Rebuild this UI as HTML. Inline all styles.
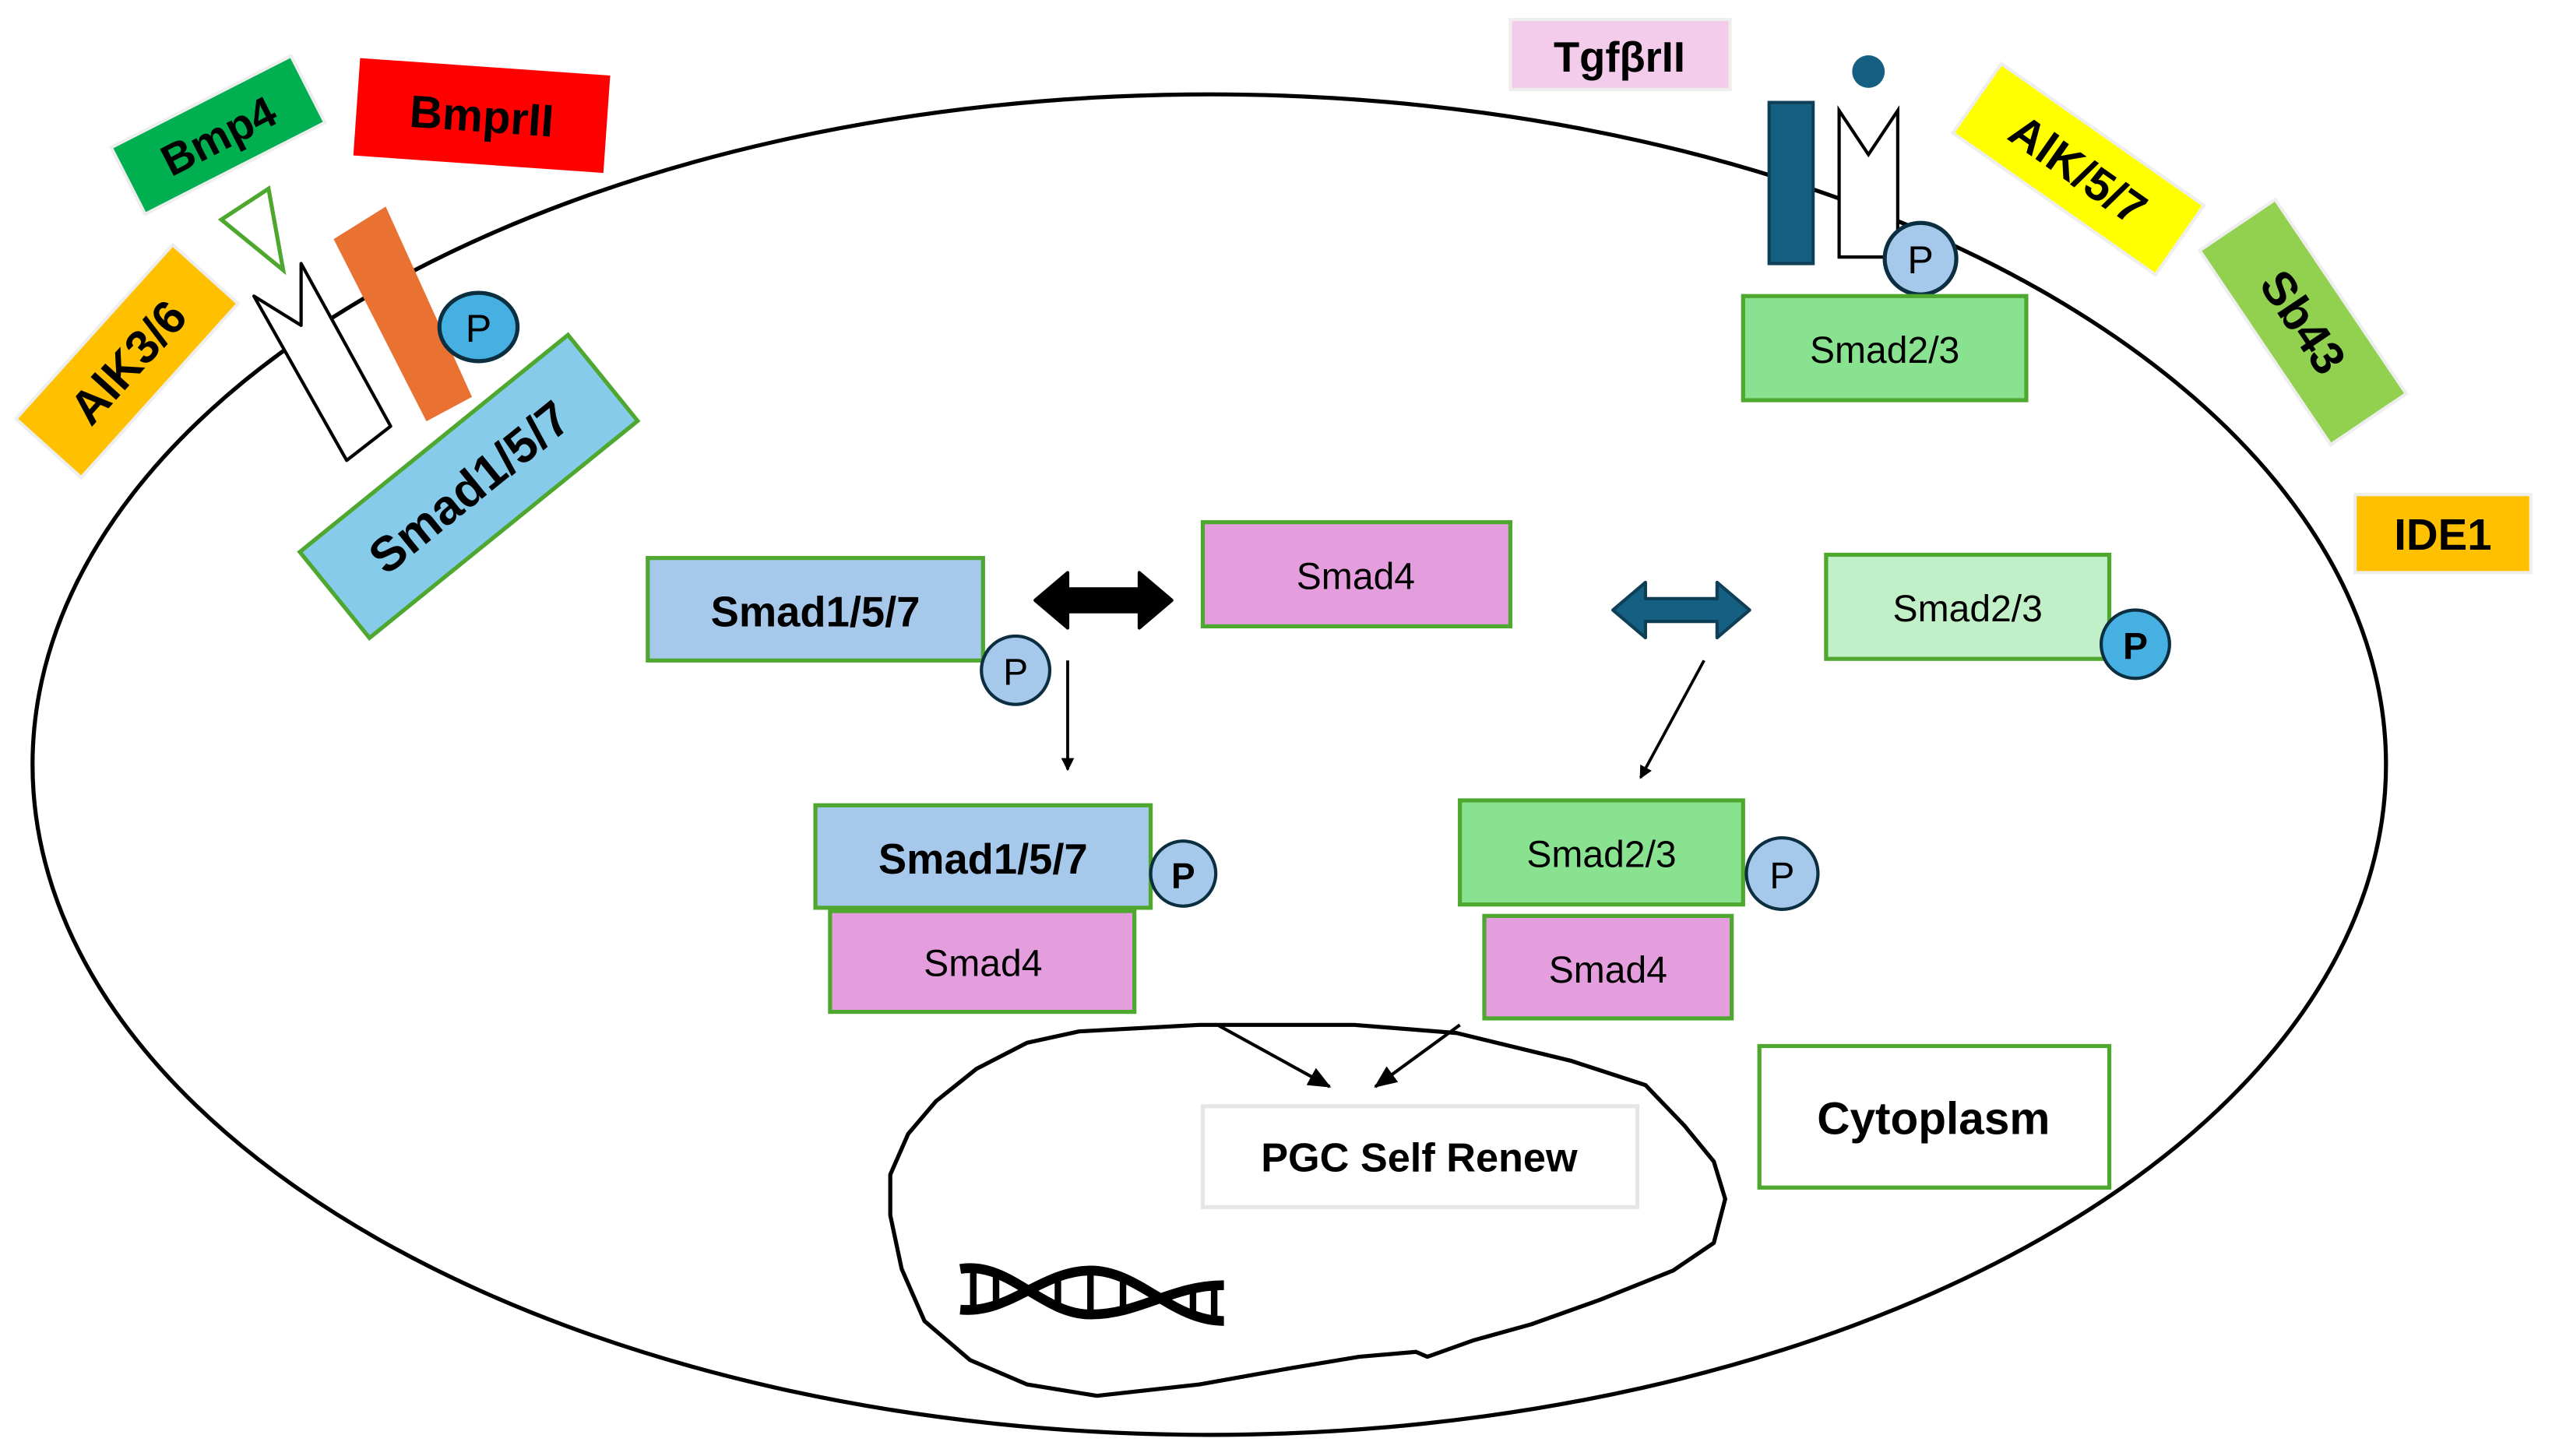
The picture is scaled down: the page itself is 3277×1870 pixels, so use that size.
<!DOCTYPE html>
<html><head><meta charset="utf-8"><style>html,body{margin:0;padding:0;background:#fff}svg{display:block}text{font-family:"Liberation Sans",sans-serif}</style></head><body>
<svg width="3277" height="1870" viewBox="0 0 1568 895" preserveAspectRatio="none" xmlns="http://www.w3.org/2000/svg">
<defs><marker id="ah" markerWidth="8" markerHeight="8" refX="7" refY="4" orient="auto" markerUnits="userSpaceOnUse"><path d="M0,0 L8,4 L0,8 Z" fill="#000"/></marker>
<marker id="ah2" markerWidth="14" markerHeight="12" refX="13" refY="6" orient="auto" markerUnits="userSpaceOnUse"><path d="M0,0 L14,6 L0,12 Z" fill="#000"/></marker></defs>
<rect width="1568" height="895" fill="#fff"/>
<ellipse cx="743" cy="470" rx="723" ry="412" fill="none" stroke="#000" stroke-width="2.5"/>
<path d="M600,657 L631,641 663,634 737,630 832,630 895,635 965,652 1011,667 1035,692 1053,714 1060,737 1053,764 1028,781 983,799 941,814 905,824 877,834 870,831 835,834 793,841 737,851 674,858 631,851 596,836 568,812 554,780 547,747 547,722 558,697 575,677 Z" fill="none" stroke="#000" stroke-width="2.5" stroke-linejoin="round"/>
<g fill="none" stroke="#000" stroke-width="6">
<path d="M590,780 C620,775 640,808 670,808 C700,808 720,790 752,790"/>
<path d="M590,805 C620,808 640,781 670,781 C700,781 720,812 752,812"/>
<path d="M598,778 V805 M612,783 V803 M650,786 V805 M670,783 V806 M690,786 V806 M733,793 V808 M746,790 V812" stroke-width="4"/>
</g>
<g transform="translate(134,83) rotate(-27)"><rect x="-62" y="-23" width="124" height="46" fill="#00B050" stroke="#eee" stroke-width="2"/><text x="0" y="10" font-size="27" font-weight="bold" text-anchor="middle">Bmp4</text></g>
<g transform="translate(296,71) rotate(4)"><rect x="-77" y="-30" width="154" height="60" fill="#FF0000"/><text x="0" y="10" font-size="28" font-weight="bold" text-anchor="middle">BmprII</text></g>
<g transform="translate(78,222) rotate(-48)"><rect x="-72" y="-27" width="144" height="54" fill="#FFC000" stroke="#eee" stroke-width="2"/><text x="0" y="11" font-size="29" font-weight="bold" text-anchor="middle">AlK3/6</text></g>
<polygon points="136,135 165,116 174,166" fill="#fff" stroke="#4EA72E" stroke-width="2.5"/>
<path d="M156,182 L185,200 L185,162 L240,262 L213,283 L156,182 Z" fill="#fff" stroke="#000" stroke-width="2" stroke-linejoin="round"/>
<polygon points="205,147 237,127 290,244 262,259" fill="#E97132"/>
<g transform="translate(288,299) rotate(-39)"><rect x="-106" y="-34" width="212" height="68" fill="#87CBEA" stroke="#4EA72E" stroke-width="2.5"/><text x="0" y="11" font-size="30" font-weight="bold" text-anchor="middle">Smad1/5/7</text></g>
<ellipse cx="294" cy="201" rx="24" ry="21" fill="#45B0E1" stroke="#0b2e40" stroke-width="2.5"/><text x="294" y="210" font-size="24" text-anchor="middle">P</text>
<rect x="928" y="12" width="135" height="43" fill="#F2CCEA" stroke="#eee" stroke-width="2"/><text x="995" y="44" font-size="26" font-weight="bold" text-anchor="middle">TgfβrII</text>
<rect x="1087" y="63" width="27" height="99" fill="#156082" stroke="#0e3f57" stroke-width="2"/>
<circle cx="1148" cy="44" r="10" fill="#156082"/>
<path d="M1157,158 L1130,158 L1130,68 L1148,95 L1166,68 L1166,148" fill="#fff" stroke="#000" stroke-width="2"/>
<circle cx="1180" cy="159" r="22" fill="#A6C8EA" stroke="#0b2e40" stroke-width="2.5"/><text x="1180" y="168" font-size="24" text-anchor="middle">P</text>
<rect x="1071" y="182" width="174" height="64" fill="#88E290" stroke="#4EA72E" stroke-width="2.5"/><text x="1158" y="223" font-size="23" text-anchor="middle">Smad2/3</text>
<g transform="translate(1277,104) rotate(35)"><rect x="-76" y="-26" width="152" height="52" fill="#FFFF00" stroke="#eee" stroke-width="2"/><text x="0" y="10" font-size="28" font-weight="bold" text-anchor="middle">AlK/5/7</text></g>
<g transform="translate(1415,198) rotate(56)"><rect x="-72" y="-28" width="144" height="56" fill="#92D050" stroke="#eee" stroke-width="2"/><text x="0" y="10" font-size="29" font-weight="bold" text-anchor="middle">Sb43</text></g>
<rect x="1447" y="304" width="108" height="48" fill="#FFC000" stroke="#eee" stroke-width="2"/><text x="1501" y="338" font-size="27" font-weight="bold" text-anchor="middle">IDE1</text>
<rect x="398" y="343" width="206" height="63" fill="#A6C8EA" stroke="#4EA72E" stroke-width="2.5"/><text x="501" y="385" font-size="26" font-weight="bold" text-anchor="middle">Smad1/5/7</text>
<circle cx="624" cy="412" r="21" fill="#A6C8EA" stroke="#0b2e40" stroke-width="2"/><text x="624" y="421" font-size="23" text-anchor="middle">P</text>
<polygon points="636,369 656,352 656,362 700,362 700,352 720,369 700,386 700,376 656,376 656,386" fill="#000" stroke="#000" stroke-width="2" stroke-linejoin="round"/>
<rect x="739" y="321" width="189" height="64" fill="#E49EDD" stroke="#4EA72E" stroke-width="2.5"/><text x="833" y="362" font-size="23" text-anchor="middle">Smad4</text>
<polygon points="991,375 1011,358 1011,368 1055,368 1055,358 1075,375 1055,392 1055,382 1011,382 1011,392" fill="#156082" stroke="#0e3f57" stroke-width="2" stroke-linejoin="round"/>
<rect x="1122" y="341" width="174" height="64" fill="#C1F0C8" stroke="#4EA72E" stroke-width="2.5"/><text x="1209" y="382" font-size="23" text-anchor="middle">Smad2/3</text>
<circle cx="1312" cy="396" r="21" fill="#45B0E1" stroke="#0b2e40" stroke-width="2"/><text x="1312" y="405" font-size="23" font-weight="bold" text-anchor="middle">P</text>
<line x1="656" y1="406" x2="656" y2="473" stroke="#000" stroke-width="1.8" marker-end="url(#ah)"/>
<line x1="1047" y1="406" x2="1008" y2="478" stroke="#000" stroke-width="1.8" marker-end="url(#ah)"/>
<rect x="501" y="495" width="206" height="63" fill="#A6C8EA" stroke="#4EA72E" stroke-width="2.5"/><text x="604" y="537" font-size="26" font-weight="bold" text-anchor="middle">Smad1/5/7</text>
<circle cx="727" cy="537" r="20" fill="#A6C8EA" stroke="#0b2e40" stroke-width="2"/><text x="727" y="546" font-size="22" font-weight="bold" text-anchor="middle">P</text>
<rect x="510" y="560" width="187" height="62" fill="#E49EDD" stroke="#4EA72E" stroke-width="2.5"/><text x="604" y="600" font-size="23" text-anchor="middle">Smad4</text>
<rect x="897" y="492" width="174" height="64" fill="#88E290" stroke="#4EA72E" stroke-width="2.5"/><text x="984" y="533" font-size="23" text-anchor="middle">Smad2/3</text>
<circle cx="1095" cy="537" r="22" fill="#A6C8EA" stroke="#0b2e40" stroke-width="2"/><text x="1095" y="546" font-size="23" text-anchor="middle">P</text>
<rect x="912" y="563" width="152" height="63" fill="#E49EDD" stroke="#4EA72E" stroke-width="2.5"/><text x="988" y="604" font-size="23" text-anchor="middle">Smad4</text>
<line x1="748" y1="630" x2="817" y2="668" stroke="#000" stroke-width="2" marker-end="url(#ah2)"/>
<line x1="897" y1="630" x2="845" y2="668" stroke="#000" stroke-width="2" marker-end="url(#ah2)"/>
<rect x="739" y="680" width="267" height="62" fill="#fff" stroke="#e6e6e6" stroke-width="2.5"/><text x="872" y="720" font-size="25" font-weight="bold" text-anchor="middle">PGC Self Renew</text>
<rect x="1081" y="643" width="215" height="87" fill="#fff" stroke="#4EA72E" stroke-width="2.5"/><text x="1188" y="697" font-size="28" font-weight="bold" text-anchor="middle">Cytoplasm</text>
</svg>
</body></html>
